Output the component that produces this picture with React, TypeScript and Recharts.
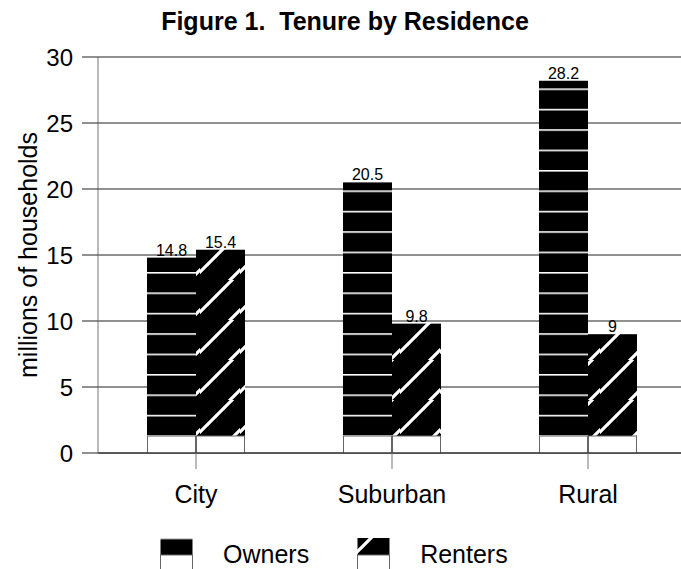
import React from "react";
import {
  BarChart,
  Bar,
  XAxis,
  YAxis,
  CartesianGrid,
  Legend,
  LabelList,
} from "recharts";

const categories = ["City", "Suburban", "Rural"];
const ownersValues = [14.8, 20.5, 28.2];
const rentersValues = [15.4, 9.8, 9];
const yTicks = [0, 5, 10, 15, 20, 25, 30];

const series = [
  { key: "owners", name: "Owners", fill: "url(#ownerLines)", legendFill: "url(#ownerLinesLegend)" },
  { key: "renters", name: "Renters", fill: "url(#renterStripes)", legendFill: "url(#renterStripesLegend)" },
];

const data = categories.map((name, i) => ({
  name,
  owners: ownersValues[i],
  renters: rentersValues[i],
}));

const FONT = "'Liberation Sans', Arial, sans-serif";
const BASE_PX = 17;

// black fill with a hollow strip at the bottom, like the scanned original
const PatternBar = (props: any) => {
  const { x, y, width, height, fill } = props;
  const base = Math.min(BASE_PX, height);
  return (
    <g>
      <rect x={x} y={y} width={width} height={height - base} fill={fill} />
      <rect
        x={x + 0.5}
        y={y + height - base}
        width={width - 1}
        height={base}
        fill="#fff"
        stroke="#666"
        strokeWidth={1}
      />
    </g>
  );
};

const YLabel = (props: any) => {
  const { viewBox } = props;
  const cx = viewBox.x + 37;
  const cy = viewBox.y + viewBox.height / 2;
  return (
    <text
      x={cx}
      y={cy}
      transform={`rotate(-90 ${cx} ${cy})`}
      textAnchor="middle"
      fontSize={25}
      fill="#000"
    >
      millions of households
    </text>
  );
};

const renderLegend = () => (
  <div
    style={{
      width: 690,
      height: 56,
      display: "flex",
      alignItems: "flex-start",
      paddingLeft: 160,
      boxSizing: "border-box",
      fontFamily: FONT,
    }}
  >
    {series.map((s, i) => (
      <div
        key={s.key}
        style={{ display: "flex", alignItems: "flex-start", marginLeft: i ? 48 : 0 }}
      >
        <svg width={34} height={31} style={{ marginTop: 25, display: "block" }}>
          <defs>
            <pattern id="ownerLinesLegend" patternUnits="userSpaceOnUse" width={8} height={20.4} y={20}>
              <rect width={8} height={20.4} fill="#000" />
              <rect width={8} height={1.5} fill="#fff" />
            </pattern>
            <pattern id="renterStripesLegend" patternUnits="userSpaceOnUse" width={40} height={40}>
              <rect width={40} height={40} fill="#000" />
              <path d="M-5,19 L19,-5 M-5,59 L45,9 M35,45 L45,35" stroke="#fff" strokeWidth={3.2} />
            </pattern>
          </defs>
          <rect x={0.5} y={0} width={32} height={17} fill={s.legendFill} />
          <rect x={0.5} y={17} width={32} height={16} fill="#fff" stroke="#666" strokeWidth={1} />
        </svg>
        <span style={{ marginLeft: 29, marginTop: 27, fontSize: 25, lineHeight: "28px", color: "#000" }}>
          {s.name}
        </span>
      </div>
    ))}
  </div>
);

export default function App() {
  return (
    <div
      style={{
        position: "absolute",
        left: 0,
        top: 0,
        width: 681,
        height: 569,
        overflow: "hidden",
        background: "#fff",
        fontFamily: FONT,
      }}
    >
      <div
        style={{
          position: "absolute",
          top: 7,
          left: 0,
          width: 690,
          textAlign: "center",
          fontSize: 25,
          fontWeight: "bold",
          lineHeight: "28px",
          whiteSpace: "pre",
          zIndex: 1,
        }}
      >
        {"Figure 1.  Tenure by Residence"}
      </div>
      <BarChart
        width={690}
        height={569}
        data={data}
        margin={{ top: 57, right: 4, left: 0, bottom: 0 }}
        barCategoryGap="25%"
        barGap={0}
      >
        <defs>
          <pattern id="ownerLines" patternUnits="userSpaceOnUse" width={8} height={20.4} y={6.8}>
            <rect width={8} height={20.4} fill="#000" />
            <rect width={8} height={1.6} fill="#fff" />
          </pattern>
          <pattern id="renterStripes" patternUnits="userSpaceOnUse" width={40} height={40}>
            <rect width={40} height={40} fill="#000" />
            <path d="M-5,37 L37,-5 M25,45 L45,25" stroke="#fff" strokeWidth={3.2} />
          </pattern>
        </defs>
        <CartesianGrid vertical={false} stroke="#222" strokeWidth={1} />
        <XAxis
          dataKey="name"
          height={60}
          tickSize={16}
          tickMargin={16}
          tickLine={{ stroke: "#777" }}
          axisLine={{ stroke: "#222" }}
          tick={{ fontSize: 25, fill: "#000" }}
        />
        <YAxis
          width={98}
          domain={[0, 30]}
          ticks={yTicks}
          interval={0}
          tickSize={16}
          tickMargin={9}
          tickLine={{ stroke: "#222" }}
          axisLine={{ stroke: "#777" }}
          tick={{ fontSize: 24, fill: "#000" }}
          label={<YLabel />}
        />
        <Legend
          verticalAlign="bottom"
          content={renderLegend}
          wrapperStyle={{ left: 0, bottom: 0 }}
        />
        {series.map((s) => (
          <Bar
            key={s.key}
            dataKey={s.key}
            name={s.name}
            fill={s.fill}
            shape={<PatternBar />}
            isAnimationActive={false}
          >
            <LabelList dataKey={s.key} position="top" offset={2} fontSize={16} fill="#000" />
          </Bar>
        ))}
      </BarChart>
    </div>
  );
}
